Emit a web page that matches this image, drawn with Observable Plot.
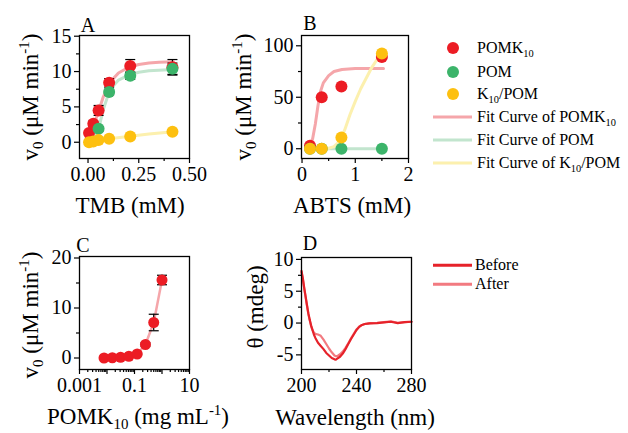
<!DOCTYPE html>
<html><head><meta charset="utf-8">
<script src="https://cdn.jsdelivr.net/npm/d3@7"></script>
<script src="https://cdn.jsdelivr.net/npm/@observablehq/plot@0.6"></script>
<style>
body{margin:0;background:#fff;}
#wrap{position:relative;width:628px;height:433px;font-family:"Liberation Serif","Times New Roman",serif;color:#000;overflow:hidden;background:#fff;}
#wrap svg{position:absolute;left:0;top:0;overflow:visible;background:transparent;}
.lab{position:absolute;white-space:nowrap;transform:translate(-50%,-50%);font-size:23px;line-height:1;}
.rot{transform:translate(-50%,-50%) rotate(-90deg);}
.pl{position:absolute;white-space:nowrap;transform:translate(-50%,-50%);font-size:20px;line-height:1;}
sub,sup{font-size:65%;line-height:0;}
.leg{position:absolute;font-size:16px;white-space:nowrap;line-height:1;transform:translateY(-50%);}
.ldot{position:absolute;width:12px;height:12px;border-radius:50%;transform:translate(-50%,-50%);}
.lline{position:absolute;height:3px;transform:translateY(-50%);}
</style></head><body><div id="wrap"></div><script>
// ---------- Panel A data (TMB) ----------
const tmbRed = [0.005, 0.026, 0.052, 0.104, 0.208, 0.416];
const vRedA = [1.3, 2.6, 4.5, 8.4, 10.8, 10.6];
const eRedA = [0.3, 0.4, 0.7, 0.6, 0.9, 1.1];
const tmbGreen = [0.052, 0.104, 0.208, 0.416];
const vGreenA = [1.9, 7.1, 9.4, 10.4];
const eGreenA = [0.3, 0.4, 0.5, 0.8];
const tmbYellow = [0.005, 0.026, 0.052, 0.104, 0.208, 0.416];
const vYellowA = [0.0, 0.1, 0.3, 0.5, 0.8, 1.5];
const fitRedAx = [0.005, 0.026, 0.05, 0.075, 0.1, 0.125, 0.15, 0.2, 0.25, 0.3, 0.35, 0.42];
const fitRedAy = [1.0, 2.3, 4.2, 6.4, 8.0, 9.0, 9.8, 10.6, 11.0, 11.2, 11.3, 11.4];
const fitGreenAx = [0.026, 0.04, 0.055, 0.075, 0.1, 0.125, 0.15, 0.2, 0.25, 0.3, 0.42];
const fitGreenAy = [0.6, 1.0, 2.2, 4.6, 6.8, 8.0, 8.8, 9.5, 9.9, 10.1, 10.3];
const fitYellowAx = [0.005, 0.026, 0.055, 0.106, 0.207, 0.3, 0.42];
const fitYellowAy = [0.0, 0.15, 0.3, 0.5, 0.85, 1.15, 1.5];

// ---------- Panel B data (ABTS) ----------
const abts = [0.15, 0.37, 0.74, 1.5];
const vRedB = [3, 50, 60.5, 89];
const vGreenB = [0, 0, 0, 0];
const vYellowB = [0, 0, 11, 92.5];
const fitRedBx = [0.15, 0.2, 0.25, 0.3, 0.35, 0.4, 0.5, 0.6, 0.75, 1.0, 1.25, 1.53];
const fitRedBy = [2, 10, 24, 42, 56, 64, 71, 75, 77, 78, 78, 78];
const fitGreenBx = [0.15, 0.5, 1.0, 1.5];
const fitGreenBy = [0, 0, 0, 0];
const fitYellowBx = [0.37, 0.5, 0.6, 0.7, 0.8, 0.9, 1.0, 1.1, 1.2, 1.3, 1.4, 1.5];
const fitYellowBy = [0, 0.5, 2, 7, 18, 33, 46, 58, 68, 78, 86, 92];

// ---------- Panel C data (POMK10 concentration) ----------
const concC = [0.0078, 0.0156, 0.03125, 0.0625, 0.125, 0.25, 0.5, 1.0];
const vC = [0, 0.05, 0.15, 0.35, 0.8, 2.7, 7.1, 15.6];
const eC = [0.1, 0.1, 0.1, 0.1, 0.15, 0.3, 1.65, 0.95];

// ---------- Panel D data (CD spectra) ----------
const wl = [200,201,202,203,204,205,206,207,208,209,210,212,214,216,218,220,222,224,225,226,228,230,232,234,236,238,240,242,244,246,248,250,255,260,265,270,275,280];
const before = [8.2,7.0,5.5,4.2,2.8,1.5,0.5,-0.4,-1.1,-1.8,-2.3,-3.1,-3.6,-4.1,-4.7,-5.1,-5.5,-5.7,-5.75,-5.6,-5.3,-4.8,-4.1,-3.3,-2.5,-1.8,-1.1,-0.6,-0.3,-0.15,-0.1,-0.05,0.0,0.1,0.2,0.0,0.15,0.2];
const after = [8.0,6.8,5.4,4.0,2.7,1.4,0.4,-0.5,-1.1,-1.5,-1.7,-1.8,-2.0,-2.6,-3.3,-4.0,-4.6,-5.1,-5.2,-5.2,-4.9,-4.5,-3.9,-3.2,-2.4,-1.7,-1.0,-0.55,-0.3,-0.15,-0.1,0.0,0.05,0.15,0.25,0.05,0.15,0.2];

// ---------- Styles ----------
const RED = "#ec1c24", GREEN = "#3cb46a", YELLOW = "#fdc010";
const RED_FIT = "#f5a6aa", GREEN_FIT = "#c2e5ce", YELLOW_FIT = "#fcf0ae";
const D_BEFORE = "#e6222a", D_AFTER = "#f27a80";
const W = 628, H = 433;

const pts = (xs, ys) => xs.map((x, i) => ({x, y: ys[i]}));
const capSymbol = {draw(ctx, size) { const r = Math.sqrt(size / Math.PI); ctx.moveTo(-r, 0); ctx.lineTo(r, 0); }};
function errMarks(xs, ys, es) {
  const d = xs.map((x, i) => ({x, lo: ys[i] - es[i], hi: ys[i] + es[i]}));
  const o = {stroke: "#000", strokeWidth: 1.2};
  return [
    Plot.ruleX(d, {x: "x", y1: "lo", y2: "hi", ...o}),
    Plot.dot(d, {x: "x", y: "lo", symbol: capSymbol, r: 5, fill: "none", ...o}),
    Plot.dot(d, {x: "x", y: "hi", symbol: capSymbol, r: 5, fill: "none", ...o})
  ];
}
function axes(a) {
  const o = {label: null, strokeWidth: 1.2, fontSize: 20};
  return [
    Plot.axisX(a.xMajor, {tickSize: 5, tickPadding: 3, tickFormat: a.xFmt, ...o}),
    Plot.axisX(a.xMinor, {tickSize: 3, tickFormat: () => "", ...o}),
    Plot.axisY(a.yMajor, {tickSize: 5, tickPadding: 3, tickFormat: a.yFmt, ...o}),
    Plot.axisY(a.yMinor, {tickSize: 3, tickFormat: () => "", ...o})
  ];
}
function panel(frame, x, y, ax, marks) {
  const [l, r, t, b] = frame;
  return Plot.plot({
    width: W, height: H,
    marginLeft: l, marginRight: W - r, marginTop: t, marginBottom: H - b,
    style: "font-family:'Liberation Serif','Times New Roman',serif;font-size:20px;overflow:visible;background:transparent;color:#000;",
    x, y,
    marks: [...marks, Plot.frame({stroke: "#000", strokeWidth: 1.3}), ...axes(ax)]
  });
}
const line = (xs, ys, stroke, w = 3) => Plot.line(pts(xs, ys), {x: "x", y: "y", stroke, strokeWidth: w});
const dots = (xs, ys, fill, r = 6) => Plot.dot(pts(xs, ys), {x: "x", y: "y", fill, r, stroke: "none"});

const wrap = document.getElementById("wrap");

// Panel A
wrap.appendChild(panel([79, 189, 35, 158],
  {domain: [-0.042, 0.5]}, {domain: [-2.3, 15.1]},
  {xMajor: [0, 0.25, 0.5], xMinor: [0.125, 0.375], xFmt: d3.format(".2f"),
   yMajor: [0, 5, 10, 15], yMinor: [2.5, 7.5, 12.5], yFmt: d => String(d)},
  [
    line(fitRedAx, fitRedAy, RED_FIT), line(fitGreenAx, fitGreenAy, GREEN_FIT), line(fitYellowAx, fitYellowAy, YELLOW_FIT),
    ...errMarks(tmbRed, vRedA, eRedA), ...errMarks(tmbGreen, vGreenA, eGreenA),
    dots(tmbRed, vRedA, RED), dots(tmbGreen, vGreenA, GREEN), dots(tmbYellow, vYellowA, YELLOW)
  ]));

// Panel B
wrap.appendChild(panel([301, 408, 35, 158],
  {domain: [-0.01, 2]}, {domain: [-9.5, 110]},
  {xMajor: [0, 1, 2], xMinor: [0.5, 1.5], xFmt: d => String(d),
   yMajor: [0, 50, 100], yMinor: [25, 75], yFmt: d => String(d)},
  [
    line(fitRedBx, fitRedBy, RED_FIT), line(fitGreenBx, fitGreenBy, GREEN_FIT), line(fitYellowBx, fitYellowBy, YELLOW_FIT),
    dots(abts, vRedB, RED), dots(abts, vGreenB, GREEN), dots(abts, vYellowB, YELLOW)
  ]));

// Panel C
const cMinor = [];
for (const dec of [0.001, 0.01, 0.1, 1]) for (let k = 2; k <= 9; k++) cMinor.push(dec * k);
wrap.appendChild(panel([79, 189, 256, 369],
  {type: "log", domain: [0.001, 10]}, {domain: [-2.3, 20.3]},
  {xMajor: [0.001, 0.01, 0.1, 1, 10], xMinor: cMinor, xFmt: d => ({0.001: "0.001", 0.1: "0.1", 10: "10"})[d] ?? "",
   yMajor: [0, 10, 20], yMinor: [5, 15], yFmt: d => String(d)},
  [
    line(concC, vC, RED_FIT, 2.5),
    ...errMarks(concC, vC, eC),
    dots(concC, vC, RED, 5.5)
  ]));

// Panel D
wrap.appendChild(panel([301, 411, 257, 369],
  {domain: [200, 280]}, {domain: [-7.3, 10.3]},
  {xMajor: [200, 240, 280], xMinor: [220, 260], xFmt: d => String(d),
   yMajor: [-5, 0, 5, 10], yMinor: [-2.5, 2.5, 7.5], yFmt: d => String(d)},
  [
    line(wl, after, D_AFTER, 2.2), line(wl, before, D_BEFORE, 2.2)
  ]));

// ---------- Text overlays ----------
const html = [];
const lab = (cx, cy, txt, cls = "lab") => html.push(`<div class="${cls}" style="left:${cx}px;top:${cy}px">${txt}</div>`);
const V0 = "v<sub>0</sub> (μM min<sup>-1</sup>)";
lab(88, 25, "A", "pl"); lab(310, 23, "B", "pl"); lab(83, 245, "C", "pl"); lab(310, 243, "D", "pl");
lab(30, 97, V0, "lab rot"); lab(243, 97, V0, "lab rot"); lab(30, 315, V0, "lab rot"); lab(255, 307, "θ (mdeg)", "lab rot");
lab(130, 205, "TMB (mM)"); lab(352, 205, "ABTS (mM)");
lab(138, 416, "POMK<sub>10</sub> (mg mL<sup>-1</sup>)"); lab(355, 417, "Wavelength (nm)");

// legend top right
const legDots = [["POMK<sub>10</sub>", RED, 48], ["POM", GREEN, 72], ["K<sub>10</sub>/POM", YELLOW, 94]];
for (const [t, c, y] of legDots) {
  html.push(`<div class="ldot" style="left:453px;top:${y}px;background:${c}"></div>`);
  html.push(`<div class="leg" style="left:477px;top:${y}px">${t}</div>`);
}
const legLines = [["Fit Curve of POMK<sub>10</sub>", RED_FIT, 117], ["Fit Curve of POM", GREEN_FIT, 140], ["Fit Curve of K<sub>10</sub>/POM", YELLOW_FIT, 163]];
for (const [t, c, y] of legLines) {
  html.push(`<div class="lline" style="left:433px;width:39px;top:${y}px;background:${c}"></div>`);
  html.push(`<div class="leg" style="left:477px;top:${y}px">${t}</div>`);
}
// legend panel D
const legD = [["Before", D_BEFORE, 265], ["After", D_AFTER, 284]];
for (const [t, c, y] of legD) {
  html.push(`<div class="lline" style="left:433px;width:39px;height:2.5px;top:${y}px;background:${c}"></div>`);
  html.push(`<div class="leg" style="left:475px;top:${y}px">${t}</div>`);
}
wrap.insertAdjacentHTML("beforeend", html.join(""));
</script></body></html>
